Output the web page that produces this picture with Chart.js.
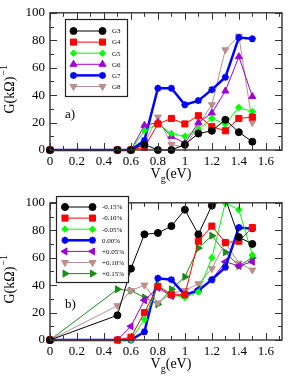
<!DOCTYPE html>
<html>
<head>
<meta charset="utf-8">
<script src="https://cdn.jsdelivr.net/npm/chart.js@4"></script>
<style>
  body { margin: 0; background: #fff; }
  canvas { display: block; }
</style>
</head>
<body>
<canvas id="panelA" width="288" height="190"></canvas>
<canvas id="panelB" width="288" height="190"></canvas>
<script>
// gate voltage (eV)
const vg = [0, 0.5, 0.6, 0.7, 0.8, 0.9, 1.0, 1.1, 1.2, 1.3, 1.4, 1.5];
const xTickLabels = ['0', '0.2', '0.4', '0.6', '0.8', '1', '1.2', '1.4', '1.6'];
const yTickLabels = ['0', '20', '40', '60', '80', '100'];

// panel a) conductance of each device
const namesA = ['G3', 'G4', 'G5', 'G6', 'G7', 'G8'];
const g3 = [0, 0, 0, 4, 0, 0, 4, 12, 14, 22, 13, 6];
const g4 = [0, 0, 0, 2, 19, 23, 19, 25, 17, 14, 23, 24];
const g5 = [0, 0, 0, 14, 19, 12, 10, 15, 23, 19, 31, 28];
const g6 = [0, 0, 0, 18, 20, 10, 5, 20, 27, 43, 68, 39];
const g7 = [0, 0, 0, 7, 45, 45, 33, 36, 44, 53, 82, 81];
const g8 = [0, 0, 0, 5, 24, 4, 2, 18, 33, 73, 83, 20];

// panel b) strain series
const namesB = ['-0.15%', '-0.10%', '-0.05%', '0.00%', '+0.05%', '+0.10%', '+0.15%'];
const sM15 = [0, 18, 52, 77, 78, 83, 95, 77, 98, 103, 75, 70];
const sM10 = [0, 0, 2, 20, 39, 33, 33, 72, 83, 71, 72, 82];
const sM05 = [0, 0, 0, 15, 40, 33, 31, 35, 60, 100, 95, 62];
const s000 = [0, 0, 0, 6, 45, 44, 33, 36, 44, 53, 82, 81];
const sP05 = [0, 0, 10, 29, 38, 32, 33, 37, 44, 57, 54, 57];
const sP10 = [0, 25, 36, 40, 27, 34, 36, 41, 52, 71, 56, 51];
const sP15 = [0, 37, 36, 31, 26, 37, 46, 67, 76, 64, 54, 60];

const FONT = '"Liberation Serif", "DejaVu Serif", serif';

// marker looks
const styleA = [
  { color: '#000000', pointStyle: 'circle', radius: 3.5, rotation: 0, width: 1 },
  { color: '#ff0000', pointStyle: 'rect', radius: 4.3, rotation: 0, width: 1 },
  { color: '#00ff00', pointStyle: 'rectRot', radius: 3.2, rotation: 0, width: 1 },
  { color: '#9b00d9', pointStyle: 'triangle', radius: 4, rotation: 0, width: 1 },
  { color: '#0000ff', pointStyle: 'star', radius: 3.5, rotation: 0, width: 2.5 },
  { color: '#bc8f8f', pointStyle: 'triangle', radius: 4, rotation: 180, width: 1 }
];
const styleB = [
  { color: '#000000', pointStyle: 'circle', radius: 3.5, rotation: 0, width: 1 },
  { color: '#ff0000', pointStyle: 'rect', radius: 4.3, rotation: 0, width: 1 },
  { color: '#00ff00', pointStyle: 'rectRot', radius: 3.2, rotation: 0, width: 1 },
  { color: '#0000ff', pointStyle: 'star', radius: 3.5, rotation: 0, width: 2.5 },
  { color: '#9b00d9', pointStyle: 'triangle', radius: 4, rotation: 270, width: 1 },
  { color: '#bc8f8f', pointStyle: 'triangle', radius: 4, rotation: 180, width: 1 },
  { color: '#1a8c1a', pointStyle: 'triangle', radius: 4, rotation: 90, width: 1 }
];

function makeSets(names, series, styles) {
  return series.map((vals, i) => {
    const s = styles[i];
    return {
      label: names[i],
      data: vg.map((v, k) => ({ x: v, y: vals[k] })),
      borderColor: s.color,
      backgroundColor: s.color,
      borderWidth: s.width,
      pointStyle: s.pointStyle,
      pointRadius: s.radius,
      pointRotation: s.rotation,
      pointBorderWidth: s.pointStyle === 'star' ? 2 : 1,
      pointBackgroundColor: s.color,
      pointBorderColor: s.color,
      tension: 0,
      clip: { left: 6, right: 0, top: 0, bottom: 6 }
    };
  });
}

// frame with inward ticks on all four sides
const frameTicks = {
  id: 'frameTicks',
  afterDraw(chart) {
    const { ctx, chartArea: a, scales: { x, y } } = chart;
    ctx.save();
    ctx.strokeStyle = '#333';
    ctx.lineWidth = 1;
    const line = (x0, y0, x1, y1) => { ctx.beginPath(); ctx.moveTo(x0, y0); ctx.lineTo(x1, y1); ctx.stroke(); };
    for (let k = 0; k <= 17; k++) {
      const px = Math.round(x.getPixelForValue(k / 10)) + 0.5;
      if (px < a.left || px > a.right) continue;
      const len = k % 2 === 0 ? 7 : 4;
      line(px, a.bottom, px, a.bottom - len);
      line(px, a.top, px, a.top + len);
    }
    for (let k = 0; k <= 10; k++) {
      const py = Math.round(y.getPixelForValue(k * 10)) + 0.5;
      const len = k % 2 === 0 ? 7 : 4;
      line(a.left, py, a.left + len, py);
      line(a.right, py, a.right - len, py);
    }
    ctx.lineWidth = 1.4;
    ctx.strokeRect(a.left, a.top, a.right - a.left, a.bottom - a.top);
    ctx.restore();
  }
};

// axis titles with sub/superscripts, plus panel tag
const axisTitles = {
  id: 'axisTitles',
  afterDraw(chart, args, opts) {
    const { ctx, chartArea: a } = chart;
    ctx.save();
    ctx.fillStyle = '#000';
    ctx.textBaseline = 'alphabetic';
    // x title: V_g(eV)
    ctx.font = '14px ' + FONT;
    const cx = (a.left + a.right) / 2 + 5;
    const wV = ctx.measureText('V').width;
    ctx.font = '10px ' + FONT;
    const wg = ctx.measureText('g').width;
    ctx.font = '14px ' + FONT;
    const wE = ctx.measureText('(eV)').width;
    let x0 = cx - (wV + wg + wE) / 2;
    const by = a.bottom + 28;
    ctx.fillText('V', x0, by);
    ctx.font = '10px ' + FONT;
    ctx.fillText('g', x0 + wV, by + 4);
    ctx.font = '14px ' + FONT;
    ctx.fillText('(eV)', x0 + wV + wg, by);
    // y title: G(kΩ)^-1
    ctx.translate(14, a.top + 77);
    ctx.rotate(-Math.PI / 2);
    const wG = ctx.measureText('G(kΩ)').width;
    ctx.font = '10px ' + FONT;
    const ws = ctx.measureText('−1').width;
    let y0 = -(wG + ws) / 2;
    ctx.font = '14px ' + FONT;
    ctx.fillText('G(kΩ)', y0, 0);
    ctx.font = '10px ' + FONT;
    ctx.fillText('−1', y0 + wG + 1, -7);
    ctx.restore();
    ctx.save();
    ctx.font = '13px ' + FONT;
    ctx.fillStyle = '#000';
    ctx.fillText(opts.tag, opts.tagX, opts.tagY);
    ctx.restore();
  }
};

// boxed legend inside the plot: line with a marker at each end
const boxLegend = {
  id: 'boxLegend',
  afterDraw(chart, args, o) {
    const { ctx } = chart;
    ctx.save();
    ctx.fillStyle = '#fff';
    ctx.fillRect(o.x, o.y, o.w, o.h);
    ctx.strokeStyle = '#222';
    ctx.lineWidth = 1.2;
    ctx.strokeRect(o.x + 0.5, o.y + 0.5, o.w, o.h);
    chart.data.datasets.forEach((ds, i) => {
      const yy = o.row0 + i * o.step;
      ctx.strokeStyle = ds.borderColor;
      ctx.fillStyle = ds.borderColor;
      ctx.lineWidth = ds.borderWidth;
      ctx.beginPath();
      ctx.moveTo(o.lx0, yy);
      ctx.lineTo(o.lx1, yy);
      ctx.stroke();
      const p = { pointStyle: ds.pointStyle, radius: ds.pointRadius, rotation: ds.pointRotation, borderWidth: ds.pointBorderWidth };
      ctx.lineWidth = ds.pointBorderWidth;
      Chart.helpers.drawPoint(ctx, p, o.lx0, yy);
      Chart.helpers.drawPoint(ctx, p, o.lx1, yy);
      ctx.fillStyle = '#000';
      ctx.font = '7px ' + FONT;
      ctx.textBaseline = 'middle';
      ctx.fillText(ds.label, o.tx, yy + 0.5);
    });
    ctx.restore();
  }
};

function makeChart(id, datasets, legendOpts, tag) {
  return new Chart(document.getElementById(id), {
    type: 'line',
    data: { datasets },
    plugins: [frameTicks, axisTitles, boxLegend],
    options: {
      responsive: false,
      animation: false,
      layout: { padding: { left: 0, right: 5, top: 6, bottom: 0 } },
      scales: {
        x: {
          type: 'linear',
          min: 0,
          max: 1.72,
          grid: { display: false, drawTicks: false },
          border: { display: false },
          afterBuildTicks: (s) => { s.ticks = xTickLabels.map(t => ({ value: parseFloat(t) })); },
          afterFit: (s) => { s.height = 40; },
          ticks: {
            padding: 4,
            color: '#000',
            font: { family: FONT, size: 13 },
            maxRotation: 0,
            callback: (v) => xTickLabels.find(t => Math.abs(parseFloat(t) - v) < 1e-6)
          }
        },
        y: {
          min: 0,
          max: 100,
          grid: { display: false, drawTicks: false },
          border: { display: false },
          afterBuildTicks: (s) => { s.ticks = yTickLabels.map(t => ({ value: Number(t) })); },
          afterFit: (s) => { s.width = 50; },
          ticks: {
            padding: 5,
            color: '#000',
            font: { family: FONT, size: 13 },
            callback: (v) => String(v)
          }
        }
      },
      plugins: {
        legend: { display: false },
        tooltip: { enabled: false },
        boxLegend: legendOpts,
        axisTitles: { tag: tag, tagX: 65, tagY: 118 }
      }
    }
  });
}

makeChart('panelA', makeSets(namesA, [g3, g4, g5, g6, g7, g8], styleA),
  { x: 65, y: 19, w: 62, h: 77, row0: 31, step: 11.1, lx0: 73.5, lx1: 102.5, tx: 112 }, 'a)');

makeChart('panelB', makeSets(namesB, [sM15, sM10, sM05, s000, sP05, sP10, sP15], styleB),
  { x: 56, y: 6, w: 72, h: 86, row0: 17, step: 11.1, lx0: 65, lx1: 92.5, tx: 102 }, 'b)');
</script>
</body>
</html>
